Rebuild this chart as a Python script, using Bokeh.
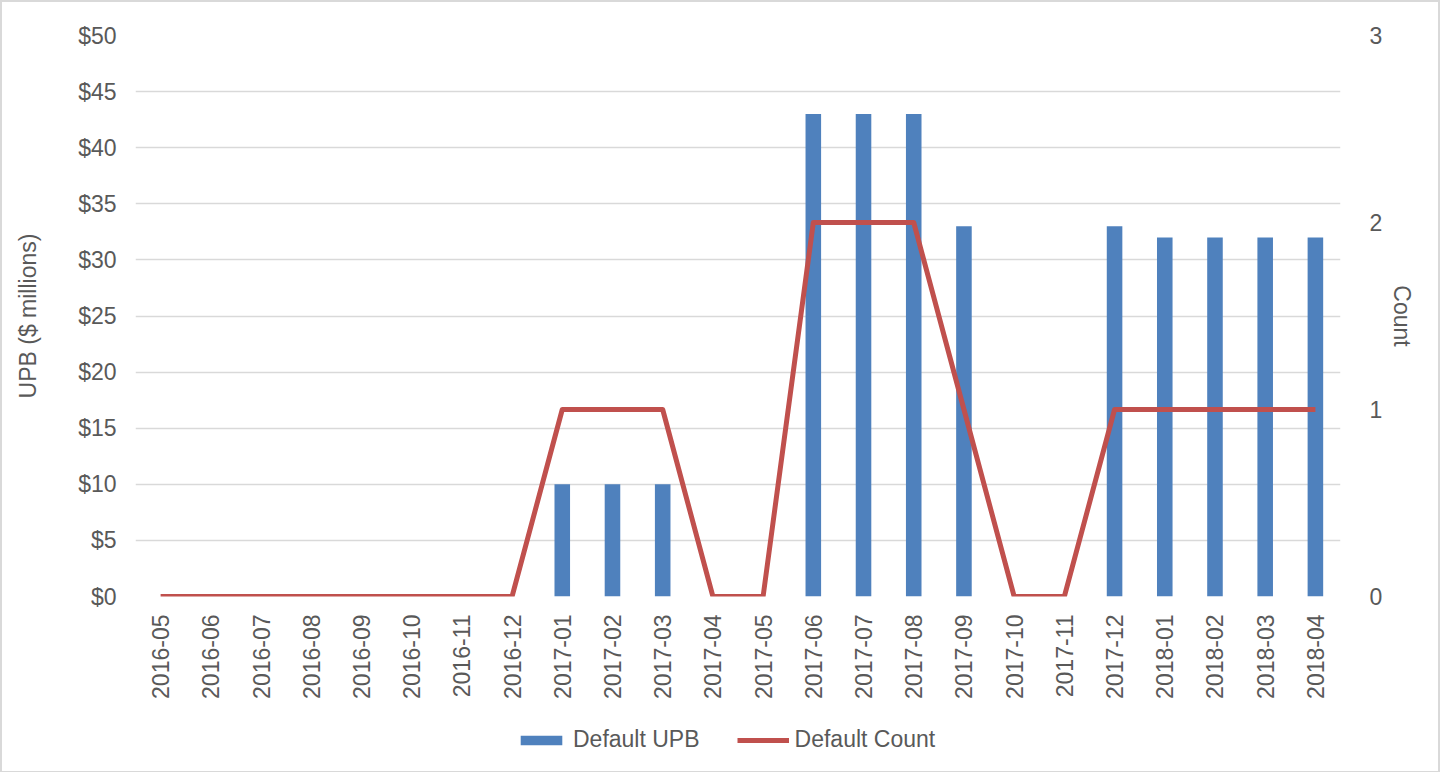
from bokeh.plotting import figure
from bokeh.layouts import column
from bokeh.models import (FactorRange, Range1d, LinearAxis, Legend, LegendItem,
                          FixedTicker, PrintfTickFormatter, ColumnDataSource)
from bokeh.embed import file_html
from bokeh.resources import INLINE
import math

months = ["2016-05", "2016-06", "2016-07", "2016-08", "2016-09", "2016-10", "2016-11",
          "2016-12", "2017-01", "2017-02", "2017-03", "2017-04", "2017-05", "2017-06",
          "2017-07", "2017-08", "2017-09", "2017-10", "2017-11", "2017-12", "2018-01",
          "2018-02", "2018-03", "2018-04"]
default_upb = [0, 0, 0, 0, 0, 0, 0, 0, 10, 10, 10, 0, 0, 43, 43, 43, 33, 0, 0, 33, 32, 32, 32, 32]
default_count = [0, 0, 0, 0, 0, 0, 0, 0, 1, 1, 1, 0, 0, 2, 2, 2, 1, 0, 0, 1, 1, 1, 1, 1]
left_ticks = [0, 5, 10, 15, 20, 25, 30, 35, 40, 45, 50]
right_ticks = [0, 1, 2, 3]

FONT = "Liberation Sans"
TXT = "#595959"
FS = "23px"
BAR_COLOR = "#4F81BD"
LINE_COLOR = "#C0504D"

src = ColumnDataSource(dict(m=months, upb=default_upb, cnt=default_count))

p = figure(frame_width=1205, frame_height=561, x_range=FactorRange(*months, range_padding=0),
           y_range=Range1d(0, 50), output_backend="svg", toolbar_location=None,
           min_border_left=133, min_border_right=98, min_border_top=33, min_border_bottom=0)
p.extra_y_ranges = {"cnt": Range1d(0, 3)}
p.outline_line_color = None
p.background_fill_color = "white"

bars = p.vbar(x="m", top="upb", width=0.31, source=src, fill_color=BAR_COLOR, line_color=None)
line = p.line(x="m", y="cnt", source=src, y_range_name="cnt", line_color=LINE_COLOR,
              line_width=5, line_join="round")

p.xgrid.grid_line_color = None
p.ygrid.grid_line_color = "#d9d9d9"
p.ygrid.grid_line_width = 1.5
p.ygrid.ticker = FixedTicker(ticks=left_ticks)

ax = p.xaxis[0]
ax.major_label_orientation = math.pi / 2
ax.major_label_standoff = 12

ay = p.yaxis[0]
ay.ticker = FixedTicker(ticks=left_ticks)
ay.formatter = PrintfTickFormatter(format="$%d")
ay.axis_label = "UPB ($ millions)"
ay.major_label_standoff = 13
ay.axis_label_standoff = 34

ry = LinearAxis(y_range_name="cnt", ticker=FixedTicker(ticks=right_ticks), axis_label="Count")
ry.major_label_standoff = 23
ry.axis_label_standoff = 4
p.add_layout(ry, "right")

for a in [ax, ay, ry]:
    a.axis_line_color = None
    a.major_tick_line_color = None
    a.minor_tick_line_color = None
    a.major_label_text_font = FONT
    a.major_label_text_font_size = FS
    a.major_label_text_color = TXT
    a.axis_label_text_font = FONT
    a.axis_label_text_font_size = FS
    a.axis_label_text_color = TXT
    a.axis_label_text_font_style = "normal"

# legend strip: same series, viewed through a y window far above the data,
# so only the legend swatches and labels appear (overflow clipped)
lf = figure(width=1436, height=70, x_range=FactorRange(*months), y_range=Range1d(1000, 1010),
            output_backend="svg", toolbar_location=None, min_border=0)
lf.styles = {"overflow": "hidden"}
lf.axis.visible = False
lf.grid.grid_line_color = None
lf.outline_line_color = None
lb = lf.vbar(x="m", top="upb", width=0.31, source=src, fill_color=BAR_COLOR, line_color=None)
ll = lf.line(x="m", y="cnt", source=src, line_color=LINE_COLOR, line_width=5)

legend = Legend(items=[LegendItem(label="Default UPB", renderers=[lb]),
                       LegendItem(label="Default Count", renderers=[ll])],
                orientation="horizontal", location=(380, 18))
legend.label_text_font = FONT
legend.label_text_font_size = FS
legend.label_text_color = TXT
legend.glyph_width = 52
legend.glyph_height = 12
legend.label_standoff = 6
legend.spacing = 37
legend.padding = 4
legend.margin = 0
legend.border_line_color = None
legend.background_fill_alpha = 0
lf.add_layout(legend, "center")

layout = column(p, lf, spacing=0)
layout.styles = {"border": "2px solid #d9d9d9", "overflow": "hidden"}

open("out.html", "w").write(file_html(layout, INLINE))
